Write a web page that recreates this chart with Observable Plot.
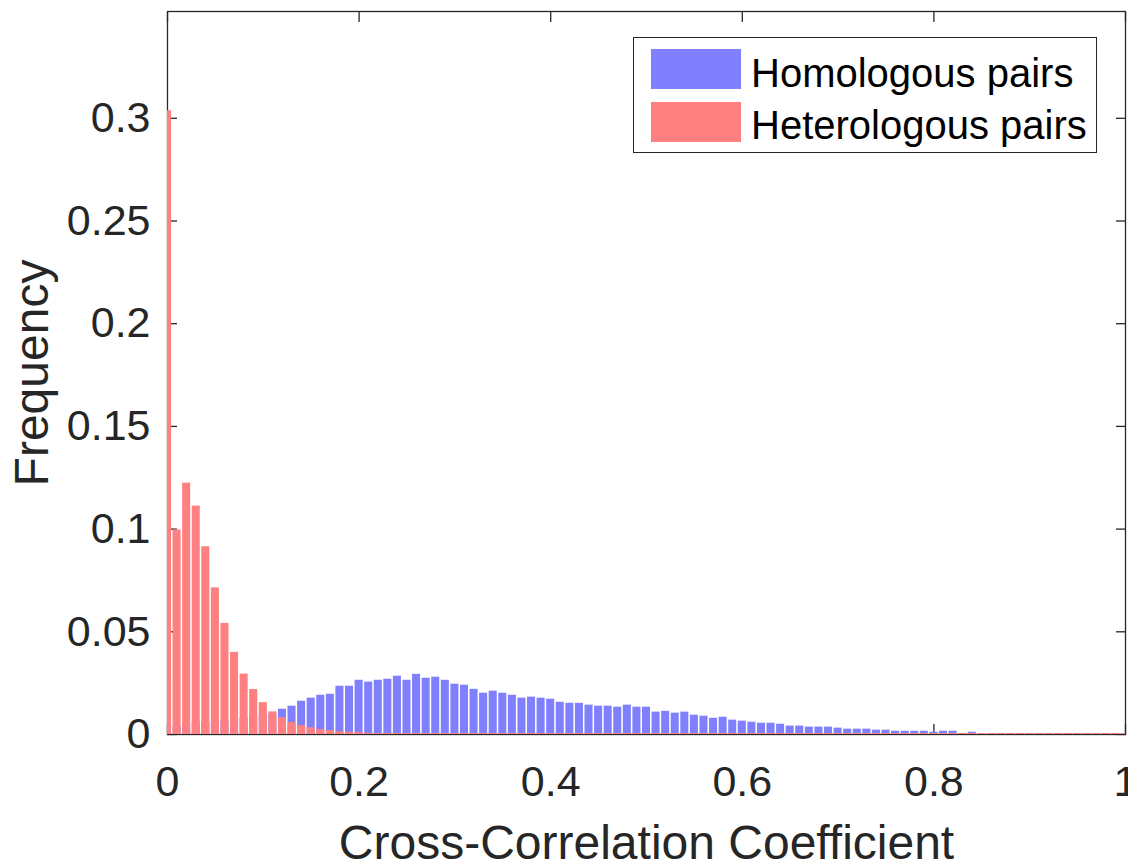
<!DOCTYPE html>
<html><head><meta charset="utf-8">
<script src="https://cdn.jsdelivr.net/npm/d3@7"></script>
<script src="https://cdn.jsdelivr.net/npm/@observablehq/plot@0.6"></script>
<style>
body{margin:0;background:#fff;}
#wrap{position:relative;width:1128px;height:863px;overflow:hidden;font-family:"Liberation Sans",Arial,sans-serif;color:#262626;background:#fff;}
#legend{position:absolute;left:633px;top:37px;width:464px;height:116px;border:1px solid #262626;background:#fff;box-sizing:border-box;}
.sw{position:absolute;left:17px;width:90px;height:40px;}
.lab{position:absolute;left:117px;height:40px;line-height:40px;font-size:40px;color:#000;white-space:nowrap;}
</style></head>
<body><div id="wrap"></div>
<script>
// Bin centres (cross-correlation coefficient)
const binCenters = [0,0.01,0.02,0.03,0.04,0.05,0.06,0.07,0.08,0.09,0.1,0.11,0.12,0.13,0.14,0.15,0.16,0.17,0.18,0.19,0.2,0.21,0.22,0.23,0.24,0.25,0.26,0.27,0.28,0.29,0.3,0.31,0.32,0.33,0.34,0.35,0.36,0.37,0.38,0.39,0.4,0.41,0.42,0.43,0.44,0.45,0.46,0.47,0.48,0.49,0.5,0.51,0.52,0.53,0.54,0.55,0.56,0.57,0.58,0.59,0.6,0.61,0.62,0.63,0.64,0.65,0.66,0.67,0.68,0.69,0.7,0.71,0.72,0.73,0.74,0.75,0.76,0.77,0.78,0.79,0.8,0.81,0.82,0.83,0.84,0.85,0.86,0.87,0.88,0.89,0.9,0.91,0.92,0.93,0.94,0.95,0.96,0.97,0.98,0.99,1];

// Homologous pairs frequency per bin
const homologous = [0.026,0.004,0.005,0.006,0.006,0.007,0.007,0.008,0.008,0.009,0.010,0.010,
  0.0123,0.0138,0.0162,0.0177,0.0191,0.0196,0.0235,0.0235,0.0264,0.0255,0.0264,0.0269,0.0284,0.0264,0.0293,0.0274,0.0279,0.0264,
  0.0245,0.0240,0.0220,0.0201,0.0211,0.0201,0.0191,0.0177,0.0182,0.0177,0.0172,0.0157,0.0152,0.0152,0.0143,0.0138,0.0138,0.0133,0.0143,0.0133,
  0.0133,0.0109,0.0113,0.0104,0.0109,0.0094,0.0089,0.0079,0.0084,0.0070,0.0065,0.0060,0.0055,0.0055,0.0050,0.0041,0.0041,0.0036,0.0036,0.0036,
  0.0031,0.0026,0.0026,0.0026,0.0021,0.0021,0.0016,0.0016,0.0016,0.0016,0.0011,0.0016,0.0016,0.0004,0.0011,
  0.0002,0.0002,0.0002,0.0002,0.0002,0.0002,0.0002,0.0002,0.0002,0.0002,0.0002,0.0002,0.0002,0.0002,0.0002,0.0002];

// Heterologous pairs frequency per bin
const heterologous = [0.3037,0.0996,0.1224,0.1112,0.0914,0.0714,0.0541,0.0400,0.0294,0.0219,0.0155,0.0110,0.0082,0.0058,0.0043,0.0033,0.0024,0.0019,0.0013,0.0011,0.0010,0.0006,
  0.0005,0.0005,0.0005,0.0005,0.0005,0.0005,0.0005,0.0005,0.0005,0.0005,0.0005,0.0005,0.0005,0.0005,0.0005,0.0005,0.0005,0.0005,
  0.0005,0.0005,0.0005,0.0005,0.0005,0.0005,0.0005,0.0005,0.0005,0.0005,0.0005,0.0005,0.0005,0.0005,0.0005,0.0005,0.0005,0.0005,0.0005,0.0005,
  0.0005,0.0005,0.0005,0.0005,0.0005,0.0005,0.0005,0.0005,0.0005,0.0005,0.0005,0.0005,0.0005,0.0005,0.0005,0.0005,0.0005,0.0005,0.0005,0.0005,
  0.0005,0.0005,0.0005,0.0005,0.0005,0.0005,0.0005,0.0005,0.0005,0.0005,0.0005,0.0005,0.0005,0.0005,0.0005,0.0005,0.0005,0.0005,0.0005,0.0005,0.0005];

const seriesNames = ["Homologous pairs", "Heterologous pairs"];
const seriesColors = ["#8080FF", "#FF8080"];
const xTicks = [0, 0.2, 0.4, 0.6, 0.8, 1];
const xTickLabels = ["0", "0.2", "0.4", "0.6", "0.8", "1"];
const yTicks = [0, 0.05, 0.1, 0.15, 0.2, 0.25, 0.3];
const yTickLabels = ["0", "0.05", "0.1", "0.15", "0.2", "0.25", "0.3"];
const xLabel = "Cross-Correlation Coefficient";
const yLabel = "Frequency";

const halfWidth = 0.0042;
const homData = binCenters.map((c, i) => ({c, v: homologous[i]}));
const hetData = binCenters.map((c, i) => ({c, v: heterologous[i]}));
const ink = "#262626";

const plot = Plot.plot({
  width: 1128, height: 863,
  marginLeft: 167, marginRight: 3, marginTop: 11, marginBottom: 129,
  style: {fontFamily: "'Liberation Sans', Arial, sans-serif", color: ink, background: "#fff", overflow: "visible"},
  x: {domain: [0, 1]},
  y: {domain: [0, 0.352]},
  marks: [
    Plot.frame({stroke: ink, strokeWidth: 1.3}),
    Plot.axisX({anchor: "bottom", ticks: xTicks, tickSize: -10, tickFormat: () => "", label: null, stroke: ink, strokeWidth: 1.3}),
    Plot.axisX({anchor: "top", ticks: xTicks, tickSize: -10, tickFormat: () => "", label: null, stroke: ink, strokeWidth: 1.3}),
    Plot.axisY({anchor: "left", ticks: yTicks, tickSize: -10, tickFormat: () => "", label: null, stroke: ink, strokeWidth: 1.3}),
    Plot.axisY({anchor: "right", ticks: yTicks, tickSize: -10, tickFormat: () => "", label: null, stroke: ink, strokeWidth: 1.3}),
    Plot.rectY(homData, {x1: d => d.c - halfWidth, x2: d => d.c + halfWidth, y1: 0, y2: "v", fill: seriesColors[0], clip: true}),
    Plot.rectY(hetData, {x1: d => d.c - halfWidth, x2: d => d.c + halfWidth, y1: 0, y2: "v", fill: seriesColors[1], clip: true}),
    Plot.axisX({anchor: "bottom", ticks: xTicks, tickSize: 0, tickPadding: 31, tickFormat: d => xTickLabels[xTicks.indexOf(d)], label: null, fontSize: 43, fill: ink}),
    Plot.axisY({anchor: "left", ticks: yTicks, tickSize: 0, tickPadding: 17, tickFormat: d => yTickLabels[yTicks.indexOf(d)], label: null, fontSize: 43, fill: ink}),
    Plot.text([xLabel], {frameAnchor: "bottom", dy: 124, lineAnchor: "bottom", textAnchor: "middle", fontSize: 48, fill: ink}),
    Plot.text([yLabel], {frameAnchor: "left", dx: -154, rotate: -90, lineAnchor: "top", textAnchor: "middle", fontSize: 48, fill: ink})
  ]
});

const wrap = document.getElementById("wrap");
wrap.appendChild(plot);

const legend = document.createElement("div");
legend.id = "legend";
const rowTops = [11, 64];
const textTops = [15, 66.5];
seriesNames.forEach((name, i) => {
  const sw = document.createElement("div");
  sw.className = "sw";
  sw.style.top = rowTops[i] + "px";
  sw.style.background = seriesColors[i];
  legend.appendChild(sw);
  const lab = document.createElement("div");
  lab.className = "lab";
  lab.style.top = textTops[i] + "px";
  lab.textContent = name;
  legend.appendChild(lab);
});
wrap.appendChild(legend);
</script>
</body></html>
